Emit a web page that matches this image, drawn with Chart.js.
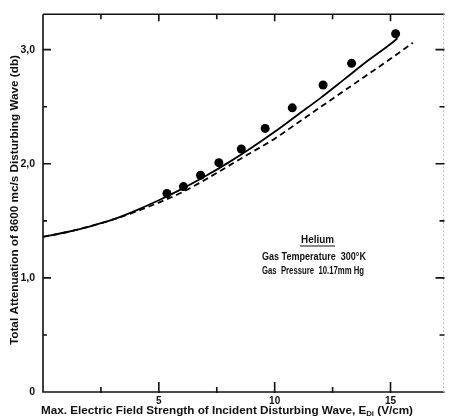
<!DOCTYPE html>
<html lang="en">
  <head>
    <meta charset="UTF-8" />
    <title>Helium attenuation</title>
    <style>
      body{ margin: 0; background: #fff; }
      canvas{ display: block; }
    </style>
  </head>
  <body>
    <canvas id="chart" width="449" height="417"></canvas>
    <script src="https://cdn.jsdelivr.net/npm/chart.js"></script>
    <script>
      // measured points
      const pointX = [5.35, 6.06, 6.80, 7.59, 8.56, 9.59, 10.76, 12.09, 13.32, 15.22];
      const pointY = [1.74, 1.80, 1.90, 2.01, 2.13, 2.31, 2.49, 2.69, 2.88, 3.14];

      // solid curve
      const solidX = [0, 1, 2, 3, 4, 5, 6, 7, 8, 9, 10, 11, 12, 13, 14, 15, 15.3];
      const solidY = [1.36, 1.40, 1.45, 1.51, 1.59, 1.68, 1.78, 1.89, 2.01, 2.14, 2.28, 2.43, 2.58, 2.74, 2.90, 3.05, 3.10];

      // dashed curve
      const dashX = [0, 1, 2, 3, 4, 5, 6, 7, 8, 9, 10, 11, 12, 13, 14, 15, 15.96];
      const dashY = [1.36, 1.40, 1.45, 1.51, 1.58, 1.66, 1.75, 1.86, 1.98, 2.10, 2.22, 2.36, 2.50, 2.64, 2.78, 2.92, 3.06];

      const xTicks = [2.5, 5, 7.5, 10, 12.5, 15];
      const yTicks = [0.5, 1, 1.5, 2, 2.5, 3];

      const yTitle = "Total Attenuation of 8600 mc/s Disturbing Wave (db)";
      const xTitle = "Max. Electric Field Strength of Incident Disturbing Wave, E";
      const xTitleSub = "Di";
      const xTitleEnd = " (V/cm)";
      const noteTitle = "Helium";
      const noteLines = ["Gas Temperature  300°K", "Gas  Pressure  10.17mm Hg"];

      const toXY = (xs, ys) => xs.map((x, i) => ({ x: x, y: ys[i] }));

      const FONT = "'Liberation Sans', Arial, sans-serif";

      function fitText(ctx, text, x, y, width) {
        const w = ctx.measureText(text).width;
        ctx.save();
        ctx.translate(x, y);
        ctx.scale(width / w, 1);
        ctx.fillText(text, 0, 0);
        ctx.restore();
      }

      const framePlugin = {
        id: "frame",
        afterDraw(chart) {
          const ctx = chart.ctx;
          const a = chart.chartArea;
          const xs = chart.scales.x;
          const ys = chart.scales.y;
          ctx.save();
          ctx.strokeStyle = "#111";
          ctx.lineWidth = 1.6;
          ctx.beginPath();
          ctx.moveTo(a.left, a.top);
          ctx.lineTo(a.left, a.bottom);
          ctx.lineTo(a.right, a.bottom);
          ctx.moveTo(a.left, a.top);
          ctx.lineTo(a.right, a.top);
          ctx.stroke();
          // faint right edge
          ctx.strokeStyle = "#bbb";
          ctx.lineWidth = 1;
          ctx.setLineDash([2, 2]);
          ctx.beginPath();
          ctx.moveTo(a.right - 1, a.top);
          ctx.lineTo(a.right - 1, a.bottom);
          ctx.stroke();
          ctx.setLineDash([]);

          ctx.strokeStyle = "#111";
          ctx.lineWidth = 1.6;
          ctx.beginPath();
          yTicks.forEach(v => {
            const py = ys.getPixelForValue(v);
            const major = Number.isInteger(v);
            ctx.moveTo(a.left, py);
            ctx.lineTo(a.left + (major ? 8 : 4), py);
            ctx.moveTo(a.right, py);
            ctx.lineTo(a.right - (major ? 9 : 5), py);
          });
          xTicks.forEach(v => {
            const px = xs.getPixelForValue(v);
            const major = v % 5 === 0;
            ctx.moveTo(px, a.bottom + 1);
            ctx.lineTo(px, a.bottom - (major ? 10 : 5));
            ctx.moveTo(px, a.top);
            ctx.lineTo(px, a.top + (major ? 7 : 5));
          });
          ctx.stroke();

          ctx.fillStyle = "#111";
          // y title
          ctx.font = "bold 10px " + FONT;
          ctx.textBaseline = "middle";
          ctx.save();
          ctx.translate(15, 200);
          ctx.rotate(-Math.PI / 2);
          const yw = 290;
          fitText(ctx, yTitle, -yw / 2, 0, yw);
          ctx.restore();

          // x title with subscript
          ctx.font = "bold 10.5px " + FONT;
          ctx.textBaseline = "alphabetic";
          const w1 = ctx.measureText(xTitle).width;
          ctx.font = "bold 7px " + FONT;
          const w2 = ctx.measureText(xTitleSub).width;
          ctx.font = "bold 10.5px " + FONT;
          const w3 = ctx.measureText(xTitleEnd).width;
          const total = w1 + w2 + w3;
          const target = 372;
          const k = target / total;
          ctx.save();
          ctx.translate(41, 414);
          ctx.scale(k, 1);
          ctx.fillText(xTitle, 0, 0);
          ctx.font = "bold 7px " + FONT;
          ctx.fillText(xTitleSub, w1, 2);
          ctx.font = "bold 10.5px " + FONT;
          ctx.fillText(xTitleEnd, w1 + w2, 0);
          ctx.restore();

          // note
          ctx.font = "bold 10.5px " + FONT;
          ctx.textAlign = "left";
          fitText(ctx, noteTitle, 301, 243, 33);
          ctx.lineWidth = 1.2;
          ctx.beginPath();
          ctx.moveTo(300, 246);
          ctx.lineTo(335, 246);
          ctx.stroke();
          ctx.font = "bold 10.5px " + FONT;
          fitText(ctx, noteLines[0], 262, 260, 104);
          fitText(ctx, noteLines[1], 262, 274, 102);
          ctx.restore();
        }
      };

      new Chart(document.getElementById("chart"), {
        type: "line",
        data: {
          datasets: [
            {
              label: "measured",
              data: toXY(pointX, pointY),
              showLine: false,
              pointRadius: 4.5,
              pointBackgroundColor: "#000",
              pointBorderWidth: 0,
            },
            {
              label: "solid",
              data: toXY(solidX, solidY),
              borderColor: "#000",
              borderWidth: 1.8,
              pointRadius: 0,
              cubicInterpolationMode: "monotone",
            },
            {
              label: "dashed",
              data: toXY(dashX, dashY),
              borderColor: "#000",
              borderWidth: 1.8,
              borderDash: [6, 4],
              pointRadius: 0,
              cubicInterpolationMode: "monotone",
            },
          ],
        },
        options: {
          responsive: false,
          animation: false,
          layout: { padding: { top: 13, right: 2 } },
          plugins: { legend: { display: false }, tooltip: { enabled: false } },
          scales: {
            x: {
              type: "linear",
              min: 0,
              max: 17.33,
              afterFit(scale) { scale.height = 25; },
              grid: { display: false, drawTicks: false },
              border: { display: false },
              ticks: {
                stepSize: 2.5,
                padding: 3,
                maxRotation: 0,
                autoSkip: false,
                color: "#111",
                font: { family: FONT, size: 10, weight: "bold" },
                callback: v => (v > 0 && v % 5 === 0 ? String(v) : ""),
              },
            },
            y: {
              min: 0,
              max: 3.31,
              afterFit(scale) { scale.width = 43; },
              grid: { display: false, drawTicks: false },
              border: { display: false },
              ticks: {
                stepSize: 0.5,
                padding: 8,
                autoSkip: false,
                color: "#111",
                font: { family: FONT, size: 10.5, weight: "bold" },
                callback: v => (Number.isInteger(v) ? (v === 0 ? "0" : v.toFixed(1).replace(".", ",")) : ""),
              },
            },
          },
        },
        plugins: [framePlugin],
      });
    </script>
  </body>
</html>
